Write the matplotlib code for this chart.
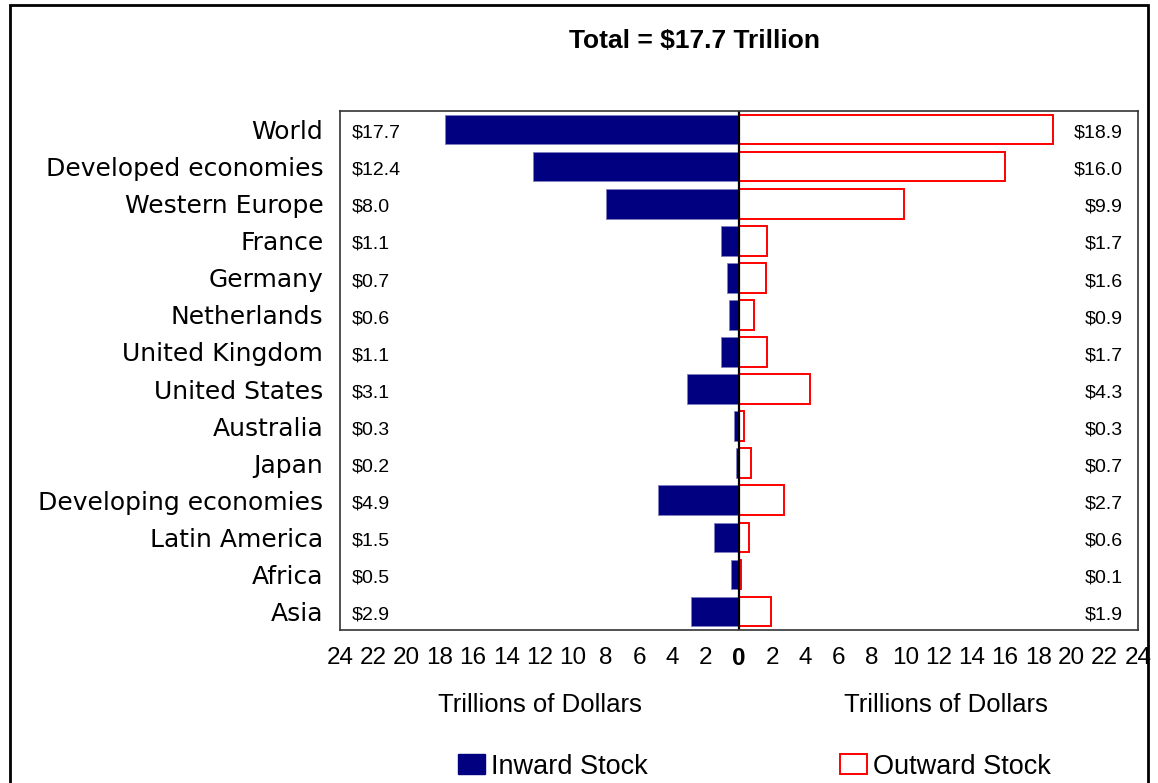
import matplotlib.pyplot as plt
from matplotlib.patches import Patch, Rectangle

regions = ["World", "Developed economies", "Western Europe", "France", "Germany",
           "Netherlands", "United Kingdom", "United States", "Australia", "Japan",
           "Developing economies", "Latin America", "Africa", "Asia"]
inward = [17.7, 12.4, 8.0, 1.1, 0.7, 0.6, 1.1, 3.1, 0.3, 0.2, 4.9, 1.5, 0.5, 2.9]
outward = [18.9, 16.0, 9.9, 1.7, 1.6, 0.9, 1.7, 4.3, 0.3, 0.7, 2.7, 0.6, 0.1, 1.9]
ticks = list(range(-24, 25, 2))

plt.rcParams['font.family'] = ['Liberation Sans', 'DejaVu Sans']

fig = plt.figure(figsize=(11.58, 7.83), dpi=100)
ax = fig.add_axes([0.2936, 0.1954, 0.6891, 0.6628])

y = list(range(len(regions)))
ax.barh(y, [-v for v in inward], height=0.8, color='#000080', edgecolor='#8080c0', linewidth=0.6)
ax.barh(y, outward, height=0.8, color='white', edgecolor='#ff0000', linewidth=1.4)
ax.axvline(0, color='black', linewidth=1.6)

ax.set_xlim(-24, 24)
ax.set_ylim(len(regions) - 0.5, -0.5)

for i, (a, b) in enumerate(zip(inward, outward)):
    ax.text(-23.3, i + 0.1, f"${a:.1f}", ha='left', va='center', fontsize=14)
    ax.text(23.1, i + 0.1, f"${b:.1f}", ha='right', va='center', fontsize=14)

ax.set_yticks(y)
ax.set_yticklabels(regions, fontsize=18, family='DejaVu Sans')
ax.set_xticks(ticks)
ax.set_xticklabels([str(abs(t)) for t in ticks], fontsize=17.5)
for lab in ax.get_xticklabels():
    if lab.get_text() == '0':
        lab.set_fontweight('bold')
ax.tick_params(length=0, pad=12)
ax.tick_params(axis='y', pad=12)
for s in ax.spines.values():
    s.set_linewidth(1.2)
    s.set_color('#333333')

fig.text(0.4663, 0.099, "Trillions of Dollars", ha='center', va='center', fontsize=18.5)
fig.text(0.8170, 0.099, "Trillions of Dollars", ha='center', va='center', fontsize=18.5)
fig.text(0.600, 0.947, "Total = $17.7 Trillion", ha='center', va='center', fontsize=19, fontweight='bold')

h1 = Patch(facecolor='#000080', edgecolor='#000080')
h2 = Patch(facecolor='white', edgecolor='#ff0000', linewidth=1.4)
leg1 = fig.legend([h1], ["Inward Stock"], loc='center', bbox_to_anchor=(0.4775, 0.021),
                  frameon=False, fontsize=19.5, handlelength=1.0, handleheight=0.75, handletextpad=0.2)
leg2 = fig.legend([h2], ["Outward Stock"], loc='center', bbox_to_anchor=(0.8165, 0.021),
                  frameon=False, fontsize=19.5, handlelength=1.0, handleheight=0.75, handletextpad=0.2)

fig.patches.append(Rectangle((0.009, -0.05), 0.982, 1.044, transform=fig.transFigure,
                             fill=False, edgecolor='black', linewidth=2))

fig.savefig("out.png", dpi=100)
